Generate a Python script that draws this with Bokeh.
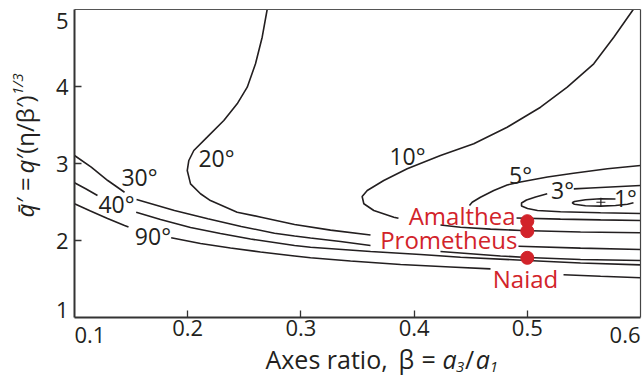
from bokeh.plotting import figure
from bokeh.models import Range1d, FixedTicker, Label, LinearAxis
from bokeh.embed import file_html
from bokeh.resources import INLINE

N = float("nan")

# ---- contour lines (beta, q-bar'), NaN = gap where a label sits ----
c20_x = [0.2702, 0.2658, 0.2599, 0.2526, 0.2437, 0.2319, 0.2172, 0.2054, 0.2010, 0.1996, 0.2025, 0.2113, 0.2201,
         0.2437, 0.2649, 0.2944, 0.3262, 0.3615, N, 0.4922, 0.5470, 0.600]
c20_y = [5.000, 4.640, 4.295, 3.991, 3.775, 3.558, 3.342, 3.169, 3.039, 2.909, 2.736, 2.607, 2.519,
         2.368, 2.303, 2.208, 2.135, 2.071, N, 1.926, 1.901, 1.883]

c30_x = [0.100, 0.1148, 0.1294, 0.1442, N, 0.1548, 0.1883, 0.2178, 0.2473, 0.2767, 0.2944, 0.3085, 0.3350, 0.3615,
         N, 0.4233, 0.4410, 0.4763, 0.4999, 0.5470, 0.600]
c30_y = [3.104, 2.952, 2.779, 2.627, N, 2.532, 2.390, 2.282, 2.182, 2.095, 2.058, 2.032, 1.987, 1.935,
         N, 1.857, 1.838, 1.799, 1.779, 1.753, 1.740]

c40_x = [0.100, 0.1103, 0.1203, N, 0.1545, 0.1760, 0.2025, 0.2289, 0.2555, 0.2944, 0.3085, 0.3615, 0.4057, 0.4410,
         0.5002, 0.5470, 0.600]
c40_y = [2.749, 2.669, 2.584, N, 2.368, 2.273, 2.169, 2.091, 2.019, 1.935, 1.913, 1.857, 1.818, 1.783,
         1.740, 1.708, 1.684]

c90_x = [0.100, 0.1141, 0.1292, 0.1442, 0.1477, N, 0.1854, 0.2113, 0.2378, 0.2643, 0.2944, 0.3085, 0.3438, 0.3880,
         0.4322, 0.4675, N, 0.5320, 0.5647, 0.600]
c90_y = [2.477, 2.383, 2.286, 2.195, 2.175, N, 2.035, 1.961, 1.903, 1.851, 1.799, 1.775, 1.734, 1.688,
         1.656, 1.632, N, 1.555, 1.535, 1.516]

c10_x = [0.5936, 0.5764, 0.5587, 0.5353, 0.5117, 0.4822, 0.4527, 0.4233, 0.3939, 0.3732, 0.3586, 0.3541, 0.3556,
         0.3644, 0.3821, 0.3862, N, 0.4233, 0.4410, 0.4675, 0.4949, 0.5470, 0.600]
c10_y = [5.000, 4.640, 4.295, 3.991, 3.731, 3.471, 3.256, 3.104, 2.931, 2.779, 2.649, 2.571, 2.477,
         2.390, 2.303, 2.288, N, 2.201, 2.173, 2.148, 2.130, 2.110, 2.100]

c5_x = [0.600, 0.5708, 0.5408, 0.5178, 0.4940, 0.4822, 0.4704, 0.4586, 0.4513, 0.4489, N, 0.4905, 0.5293, 0.5647, 0.600]
c5_y = [2.974, 2.931, 2.874, 2.825, 2.760, 2.721, 2.649, 2.562, 2.497, 2.455, N, 2.292, 2.278, 2.268, 2.260]

c3_x = [0.600, 0.5735, 0.5558, 0.5411, N, 0.5176, 0.5073, 0.4993, 0.4949, 0.4949, 0.5002, 0.5090, 0.5293, 0.5647, 0.600]
c3_y = [2.714, 2.695, 2.682, 2.671, N, 2.606, 2.565, 2.526, 2.487, 2.448, 2.416, 2.390, 2.374, 2.360, 2.351]

c1_x = [0.5779, 0.5647, 0.5514, 0.5417, 0.5397, 0.5417, 0.5514, 0.5647, 0.5779, 0.5885, 0.5938]
c1_y = [2.539, 2.542, 2.530, 2.507, 2.490, 2.470, 2.451, 2.446, 2.455, 2.470, 2.490]

minimum_x = [0.565]
minimum_y = [2.497]

# ---- moons ----
moon_names = ["Amalthea", "Prometheus", "Naiad"]
moon_x = [0.5, 0.5, 0.5]
moon_y = [2.251, 2.121, 1.775]

# ---- contour labels ----
clabel_text = ["20°", "30°", "40°", "90°", "10°", "5°", "3°", "1°"]

# ---- ticks ----
xtick_vals = [0.1, 0.2, 0.3, 0.4, 0.5, 0.6]
xtick_labels = ["0.1", "0.2", "0.3", "0.4", "0.5", "0.6"]
ytick_vals = [1, 2, 3, 4, 5]
ytick_labels = ["1", "2", "3", "4", "5"]

INK = "#231f20"
RED = "#d2232a"
FONT = "Open Sans"

# plotting frame covers the whole canvas; the visible box (0.1-0.6, 1-5) is drawn by axes
X0, X1, Y0, Y1 = 0.1, 0.6, 1.0, 5.0
p = figure(width=642, height=379, output_backend="svg", toolbar_location=None,
           x_range=Range1d(X0 - 74 / 1132, X1 + 2 / 1132), y_range=Range1d(Y0 - 62 / 77, Y1 + 9 / 77),
           x_axis_location=None, y_axis_location=None, min_border=0,
           min_border_left=0, min_border_right=0, min_border_top=0, min_border_bottom=0)
p.grid.visible = False
p.outline_line_color = None
p.background_fill_color = "white"
p.border_fill_color = "white"

xaxis = LinearAxis(fixed_location=Y0, bounds=(X0, X1), ticker=FixedTicker(ticks=xtick_vals[1:-1]),
                   major_label_overrides={v: t for v, t in zip(xtick_vals[1:-1], xtick_labels[1:-1])})
yaxis = LinearAxis(fixed_location=X0, bounds=(Y0, Y1), ticker=FixedTicker(ticks=ytick_vals[1:-1]),
                   major_label_overrides={v: t for v, t in zip(ytick_vals[1:-1], ytick_labels[1:-1])})
for ax in (xaxis, yaxis):
    ax.axis_line_color = "#333333"
    ax.axis_line_width = 2
    ax.major_tick_in = 7
    ax.major_tick_out = 0
    ax.minor_tick_line_color = None
    ax.major_tick_line_color = "#333333"
    ax.major_tick_line_width = 1.3
    ax.major_label_text_font = FONT
    ax.major_label_text_font_size = "22px"
    ax.major_label_text_color = INK
xaxis.major_label_standoff = 2
yaxis.major_label_standoff = 6
p.add_layout(xaxis, "below")
p.add_layout(yaxis, "left")

topaxis = LinearAxis(fixed_location=Y1, bounds=(X0, X1), ticker=FixedTicker(ticks=[]),
                     axis_line_color="#555555", axis_line_width=1, major_tick_line_color=None,
                     minor_tick_line_color=None)
rightaxis = LinearAxis(fixed_location=X1, bounds=(Y0, Y1), ticker=FixedTicker(ticks=[]),
                       axis_line_color="#444444", axis_line_width=1.2, major_tick_line_color=None,
                       minor_tick_line_color=None)
p.add_layout(topaxis, "above")
p.add_layout(rightaxis, "right")

for cx, cy in [(c20_x, c20_y), (c30_x, c30_y), (c40_x, c40_y), (c90_x, c90_y),
               (c10_x, c10_y), (c5_x, c5_y), (c3_x, c3_y), (c1_x, c1_y)]:
    p.line(cx, cy, line_color=INK, line_width=1.6)

p.scatter(minimum_x, minimum_y, marker="cross", size=9, line_color=INK, line_width=1.2)
p.scatter(moon_x, moon_y, marker="circle", size=13, fill_color=RED, line_color=RED)


def lab(text, x, y, size, color=INK, align="center", style="normal", angle=0.0):
    p.add_layout(Label(x=x, y=y, text=text, text_align=align, text_baseline="middle", angle=angle,
                       text_font=FONT, text_font_size=size, text_font_style=style, text_color=color))


# contour labels (centres)
clabel_pos = [(0.2254, 3.071), (0.1574, 2.825), (0.1371, 2.468), (0.1693, 2.052),
              (0.3942, 3.091), (0.4940, 2.857), (0.5311, 2.662), (0.5867, 2.552)]
for t, (x, y) in zip(clabel_text, clabel_pos):
    lab(t, x, y, "23px")

# moon labels
lab(moon_names[0], 0.4896, 2.321, "24px", RED, "right")
lab(moon_names[1], 0.4913, 2.010, "24px", RED, "right")
lab(moon_names[2], 0.4984, 1.510, "24px", RED, "center")

# end tick labels (kept inside the box edges, as in the original)
lab(xtick_labels[0], xtick_vals[0], 0.777, "22px", align="left")
lab(xtick_labels[-1], xtick_vals[-1], 0.777, "22px", align="right")
lab(ytick_labels[0], 0.0947, 1.097, "22px", align="right")
lab(ytick_labels[-1], 0.0947, 4.851, "22px", align="right")

# x-axis title
for t, x, y, st, fs in [("Axes ratio,", 0.2687, 0.461, "normal", "25px"),
                        ("β", 0.3862, 0.461, "normal", "25px"),
                        ("=", 0.4065, 0.461, "normal", "25px"),
                        ("a", 0.4250, 0.461, "italic", "25px"),
                        ("3", 0.4370, 0.360, "italic", "15px"),
                        ("/", 0.4450, 0.461, "normal", "25px"),
                        ("a", 0.4545, 0.461, "italic", "25px"),
                        ("1", 0.4668, 0.360, "italic", "15px")]:
    lab(t, x, y, fs, align="left", style=st)

# y-axis title (rotated)
for t, x, y, st, fs in [("q\u0304", 0.0558, 2.300, "italic", "24px"),
                        ("\u2032 =", 0.0558, 2.490, "normal", "24px"),
                        ("q", 0.0558, 2.870, "italic", "24px"),
                        ("\u2032(η/β\u2032)", 0.0558, 3.055, "normal", "24px"),
                        ("1/3", 0.0496, 3.890, "italic", "15px")]:
    lab(t, x, y, fs, align="left", style=st, angle=1.5707963)

open("out.html", "w").write(file_html(p, INLINE))
